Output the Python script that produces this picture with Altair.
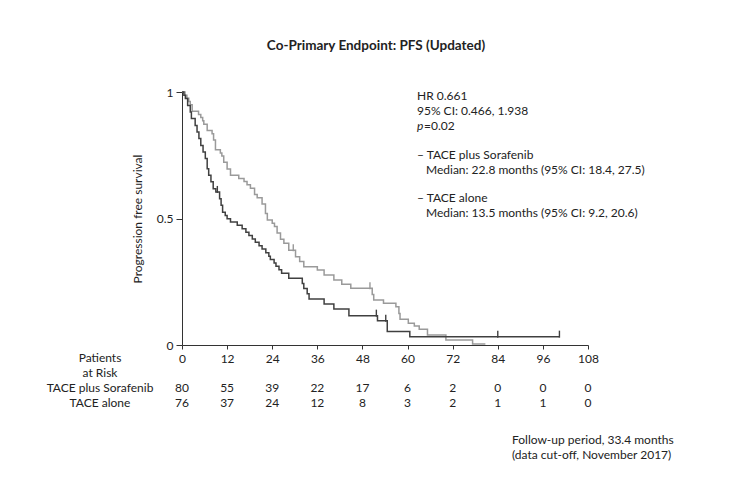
import altair as alt
import pandas as pd

# ---------------- data ----------------
months = [0, 12, 24, 36, 48, 60, 72, 84, 96, 108]
risk_sorafenib = [80, 55, 39, 22, 17, 6, 2, 0, 0, 0]
risk_alone = [76, 37, 24, 12, 8, 3, 2, 1, 1, 0]

# TACE plus Sorafenib (light grey) step curve: event times / survival after step
sor_t = [0, 0.8, 1.3, 1.8, 2.2, 2.7, 4.4, 5.0, 5.5, 5.8, 6.7, 8.0, 8.4, 8.9, 10.2,
         10.6, 11.1, 12.0, 12.9, 15.1, 16.5, 17.3, 18.2, 19.3, 20.0, 21.3, 22.2,
         22.7, 24.0, 24.6, 25.3, 26.2, 27.1, 28.4, 30.2, 31.3, 32.4, 36.0, 37.8,
         40.4, 42.5, 44.9, 50.6, 51.0, 53.6, 56.9, 57.7, 58.0, 60.2, 61.8, 63.1,
         65.3, 70.2, 77.3]
sor_s = [1.0, 0.987, 0.975, 0.962, 0.95, 0.924, 0.911, 0.899, 0.886, 0.873, 0.848,
         0.835, 0.81, 0.772, 0.759, 0.747, 0.722, 0.696, 0.671, 0.658, 0.646, 0.633,
         0.62, 0.595, 0.582, 0.557, 0.52, 0.494, 0.481, 0.468, 0.443, 0.418, 0.402,
         0.375, 0.349, 0.33, 0.309, 0.296, 0.277, 0.257, 0.24, 0.224, 0.2, 0.178,
         0.165, 0.151, 0.125, 0.102, 0.086, 0.075, 0.062, 0.04, 0.02, 0.004]
sor_end = 80.7
sor_censor = [29.6, 50.0]

# TACE alone (dark) step curve
alone_t = [0, 0.5, 0.9, 1.5, 2.2, 2.5, 3.5, 4.0, 4.5, 5.0, 5.6, 6.2, 6.7, 7.1, 7.7,
           8.3, 9.0, 10.0, 10.4, 10.8, 11.5, 12.0, 12.9, 14.7, 16.0, 17.0, 17.8,
           18.7, 19.5, 20.5, 21.3, 22.3, 23.1, 23.5, 24.5, 25.0, 25.8, 26.5, 28.4,
           32.0, 32.4, 33.3, 33.8, 37.8, 40.4, 44.4, 52.0, 54.6, 60.6]
alone_s = [1.0, 0.987, 0.974, 0.947, 0.921, 0.895, 0.868, 0.842, 0.816, 0.789,
           0.763, 0.737, 0.697, 0.671, 0.645, 0.618, 0.605, 0.578, 0.552, 0.525,
           0.512, 0.499, 0.486, 0.473, 0.459, 0.446, 0.433, 0.419, 0.406, 0.392,
           0.379, 0.365, 0.351, 0.338, 0.324, 0.311, 0.297, 0.284, 0.264, 0.243,
           0.223, 0.203, 0.182, 0.162, 0.142, 0.116, 0.096, 0.053, 0.033]
alone_end = 100.4
alone_censor = [9.4, 51.7, 54.2, 84.0, 100.4]

title_text = "Co-Primary Endpoint: PFS (Updated)"
y_title = "Progression free survival"
stats_lines = ["HR 0.661", "95% CI: 0.466, 1.938"]
p_label = ["p", "=0.02"]
arm_lines = ["\u2013 TACE plus Sorafenib", "Median: 22.8 months (95% CI: 18.4, 27.5)",
             "\u2013 TACE alone", "Median: 13.5 months (95% CI: 9.2, 20.6)"]
risk_header = ["Patients", "at Risk"]
arm_names = ["TACE plus Sorafenib", "TACE alone"]
footer_lines = ["Follow-up period, 33.4 months", "(data cut-off, November 2017)"]

# ---------------- layout ----------------
W, H = 406, 253
FONT = "Lato"
FS = 12
TXT = "#222222"
GREY = "#9a9a9a"
DARK = "#404040"


def curve(ts, ss, end, arm):
    rows = [{"t": t, "s": s, "arm": arm} for t, s in zip(ts, ss)]
    rows.append({"t": end, "s": ss[-1], "arm": arm})
    return rows


def surv_at(ts, ss, t):
    val = ss[0]
    for ti, si in zip(ts, ss):
        if ti <= t:
            val = si
    return val


curve_df = pd.DataFrame(curve(sor_t, sor_s, sor_end, arm_names[0]) +
                        curve(alone_t, alone_s, alone_end, arm_names[1]))
cens_df = pd.DataFrame(
    [{"t": t, "s": surv_at(sor_t, sor_s, t), "arm": arm_names[0]} for t in sor_censor] +
    [{"t": t, "s": surv_at(alone_t, alone_s, t), "arm": arm_names[1]} for t in alone_censor])

xs = alt.Scale(domain=[0, 108], nice=False, zero=False)
ys = alt.Scale(domain=[0, 1], nice=False)
col = alt.Scale(domain=arm_names, range=[GREY, DARK])

lines = alt.Chart(curve_df).mark_line(interpolate="step-after", strokeWidth=1.5).encode(
    x=alt.X("t:Q", scale=xs,
            axis=alt.Axis(values=months, title=None, grid=False, tickSize=4, labelPadding=4,
                          labelFont=FONT, labelFontSize=FS, labelColor=TXT,
                          domainColor="#333", tickColor="#333", labelFlush=False)),
    y=alt.Y("s:Q", scale=ys,
            axis=alt.Axis(values=[0, 0.5, 1], labelExpr="toString(datum.value)",
                          title=y_title, titleFont=FONT, titleFontSize=FS,
                          titleFontWeight="normal", titleColor=TXT, titlePadding=12,
                          grid=False, tickSize=6, labelPadding=3, labelFont=FONT,
                          labelFontSize=FS, labelColor=TXT, domainColor="#333",
                          tickColor="#333", labelFlush=False)),
    color=alt.Color("arm:N", scale=col, legend=None),
    detail="arm:N",
)

cens = alt.Chart(cens_df).mark_rule(strokeWidth=1.4, yOffset=-6, y2Offset=1).encode(
    x=alt.X("t:Q", scale=xs),
    y=alt.Y("s:Q", scale=ys),
    y2="s:Q",
    color=alt.Color("arm:N", scale=col, legend=None),
)


def text_layer(df, x, y, **kw):
    params = dict(font=FONT, fontSize=FS, color=TXT, baseline="middle")
    params.update(kw)
    return alt.Chart(df).mark_text(**params).encode(text="text:N", x=x, y=y)


title = text_layer(pd.DataFrame({"text": [title_text]}), alt.value(194), alt.value(-46),
                   fontSize=13.5, fontWeight="bold", align="center")

stats = text_layer(pd.DataFrame({"text": stats_lines, "yy": [4, 19]}), alt.value(235),
                   alt.Y("yy:Q", scale=None), align="left")
p_it = text_layer(pd.DataFrame({"text": [p_label[0]]}), alt.value(235), alt.value(34),
                  align="left", fontStyle="italic")
p_rest = text_layer(pd.DataFrame({"text": [p_label[1]]}), alt.value(242), alt.value(34),
                    align="left")
arms = text_layer(pd.DataFrame({"text": arm_lines, "xx": [235, 244, 235, 244],
                                "yy": [63, 78, 106, 121]}),
                  alt.X("xx:Q", scale=None), alt.Y("yy:Q", scale=None), align="left")

header = text_layer(pd.DataFrame({"text": risk_header + arm_names, "yy": [266, 281, 296, 311]}),
                    alt.value(-82), alt.Y("yy:Q", scale=None), align="center")

risk_df = pd.DataFrame({"t": months * 2,
                        "text": [str(v) for v in risk_sorafenib + risk_alone],
                        "yy": [296] * len(months) + [311] * len(months)})
risk = text_layer(risk_df, alt.X("t:Q", scale=xs), alt.Y("yy:Q", scale=None), align="center")

footer = text_layer(pd.DataFrame({"text": footer_lines, "yy": [348, 363]}), alt.value(330),
                    alt.Y("yy:Q", scale=None), align="left")

chart = alt.layer(lines, cens, title, stats, p_it, p_rest, arms, header, risk, footer).properties(
    width=W, height=H,
    background="white",
    autosize=alt.AutoSizeParams(type="none"),
    padding={"left": 174, "top": 84, "right": 120, "bottom": 130},
).configure_view(stroke=None, strokeWidth=0)

chart.save("out.html", embed_options={"renderer": "svg", "actions": False})
